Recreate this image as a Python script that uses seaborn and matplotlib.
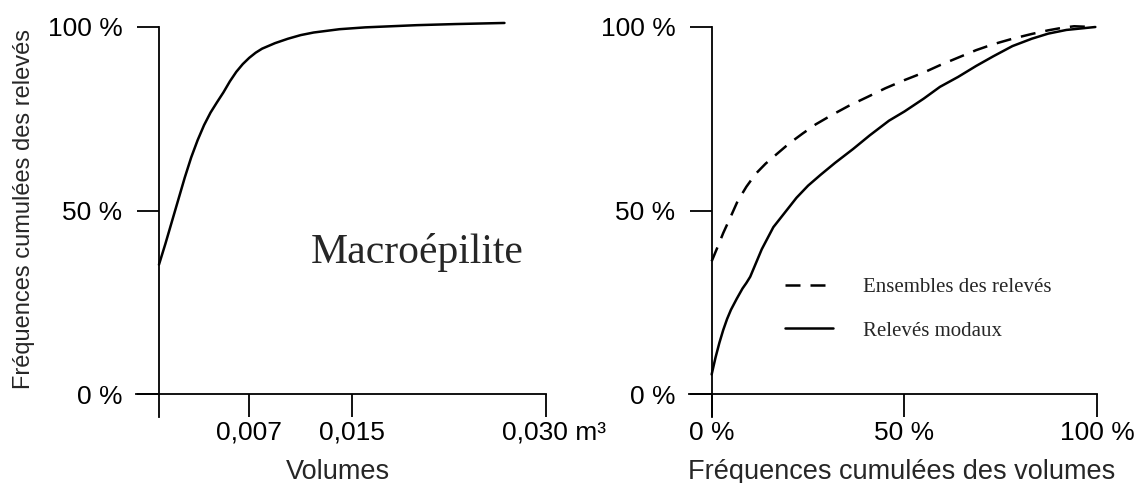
import matplotlib
matplotlib.use("Agg")
import matplotlib.pyplot as plt
import matplotlib.transforms as mtransforms
import seaborn as sns
import pandas as pd

# Courbe de gauche : volumes (m3) vs fréquences cumulées des relevés
vol_x = [0.0, 0.0005, 0.001, 0.0015, 0.002, 0.0025, 0.003, 0.0035, 0.004, 0.0045,
         0.005, 0.0055, 0.006, 0.0065, 0.007, 0.0075, 0.008, 0.009, 0.010, 0.011,
         0.012, 0.014, 0.016, 0.018, 0.020, 0.023, 0.0268]
vol_y = [0.353, 0.410, 0.470, 0.530, 0.590, 0.645, 0.692, 0.733, 0.767, 0.795,
         0.822, 0.852, 0.878, 0.899, 0.916, 0.930, 0.941, 0.956, 0.968, 0.978,
         0.985, 0.994, 0.999, 1.002, 1.005, 1.008, 1.011]

# Courbes de droite (en %)
ens_x = [0, 1.5, 3, 5, 6.7, 9, 11.4, 14, 17.1, 20, 23.6, 27, 31.1, 35.5, 40.5, 45,
         49.9, 55, 59.2, 64, 68.6, 73, 78, 83, 87.3, 91, 94, 98.7]
ens_y = [36.2, 40, 43.9, 48.5, 52.5, 56.5, 60, 62.8, 65.6, 68.2, 71, 73.5, 76, 78.5,
         81, 83.3, 85.5, 87.6, 89.6, 91.7, 93.7, 95.3, 96.8, 98.1, 99.1, 99.8, 100.2, 100]

mod_x = [0, 1, 2, 3, 4, 5, 6.5, 8, 9, 10, 11, 12, 13, 14, 16, 19, 22, 25, 28.3, 32,
         36.7, 41, 46, 50, 55, 59.2, 63.9, 68.6, 73, 78, 83, 87.3, 92, 99.5]
mod_y = [5.4, 10, 14, 17.5, 20.5, 23, 26, 28.8, 30.3, 32, 34.5, 37, 39.5, 41.5, 45.5,
         49.5, 53.5, 56.8, 59.8, 63, 66.8, 70.5, 74.5, 77, 80.5, 83.7, 86.4, 89.4,
         92, 94.8, 96.8, 98.2, 99.2, 100]

left_xticks = [0.007, 0.015, 0.030]
left_xlabels = ["0,007", "0,015", "0,030 m³"]
pct_labels = ["0 %", "50 %", "100 %"]

sns.set_theme(style="ticks")
plt.rcParams["font.family"] = ["Liberation Sans", "DejaVu Sans"]

fig = plt.figure(figsize=(11.45, 4.83), dpi=100)
ax1 = fig.add_axes([0.1188, 0.1373, 0.3578, 0.8068])
ax2 = fig.add_axes([0.6020, 0.1373, 0.3563, 0.8068])

lw = 1.8
df_vol = pd.DataFrame({"x": vol_x, "y": vol_y})
sns.lineplot(data=df_vol, x="x", y="y", ax=ax1, color="black", lw=lw, clip_on=False)

df_ens = pd.DataFrame({"x": ens_x, "y": ens_y})
df_mod = pd.DataFrame({"x": mod_x, "y": mod_y})
sns.lineplot(data=df_ens, x="x", y="y", ax=ax2, color="black", lw=lw,
             linestyle=(0, (6, 4)), label="Ensembles des relevés", clip_on=False)
sns.lineplot(data=df_mod, x="x", y="y", ax=ax2, color="black", lw=lw,
             label="Relevés modaux", clip_on=False)

for ax in (ax1, ax2):
    for s in ("top", "right"):
        ax.spines[s].set_visible(False)
    ax.spines["left"].set_position(("data", 0))
    ax.spines["bottom"].set_position(("data", 0))
    for s in ("left", "bottom"):
        ax.spines[s].set_linewidth(1.3)
        ax.spines[s].set_color("black")
    ax.tick_params(axis="both", direction="out", length=16.2, width=1.3,
                   color="black", labelsize=19, labelcolor="black")
    ax.tick_params(axis="y", pad=10)
    ax.tick_params(axis="x", pad=3)
    ax.set_facecolor("white")

ax1.set_xlim(-0.00178, 0.030)
ax1.set_ylim(-0.061, 1.0)
ax1.set_xticks(left_xticks)
ax1.set_xticklabels(left_xlabels)
ax1.set_yticks([0, 0.5, 1.0])
ax1.set_yticklabels(pct_labels)
ax1.set_xlabel("Volumes", fontsize=19.5)
ax1.set_ylabel("Fréquences cumulées des relevés", fontsize=17)
ax1.xaxis.set_label_coords(0.492, -0.108)
ax1.yaxis.set_label_coords(-0.2465, 0.533)
ax1.text(0.0200, 0.385, "Macroépilite", family="Liberation Serif", fontsize=30,
         ha="center", va="center")

# décaler un peu l'étiquette "0,030 m³" vers la droite
shift = mtransforms.ScaledTranslation(8 / 100, 0, fig.dpi_scale_trans)
lab = ax1.get_xticklabels()[-1]
lab.set_transform(lab.get_transform() + shift)

ax2.set_xlim(-5.8, 100)
ax2.set_ylim(-6.1, 100)
ax2.set_xticks([0, 50, 100])
ax2.set_xticklabels(pct_labels)
ax2.set_yticks([0, 50, 100])
ax2.set_yticklabels(pct_labels)
ax2.set_xlabel("Fréquences cumulées des volumes", fontsize=19.5)
ax2.set_ylabel("")
ax2.xaxis.set_label_coords(0.52, -0.108)

ax2.legend(frameon=False, loc="center left", bbox_to_anchor=(0.2346, 0.276),
           prop={"family": "Liberation Serif", "size": 15},
           handlelength=2.3, handletextpad=1.45, labelspacing=1.15,
           borderpad=0, borderaxespad=0)

fig.savefig("out.png", dpi=100, facecolor="white")
